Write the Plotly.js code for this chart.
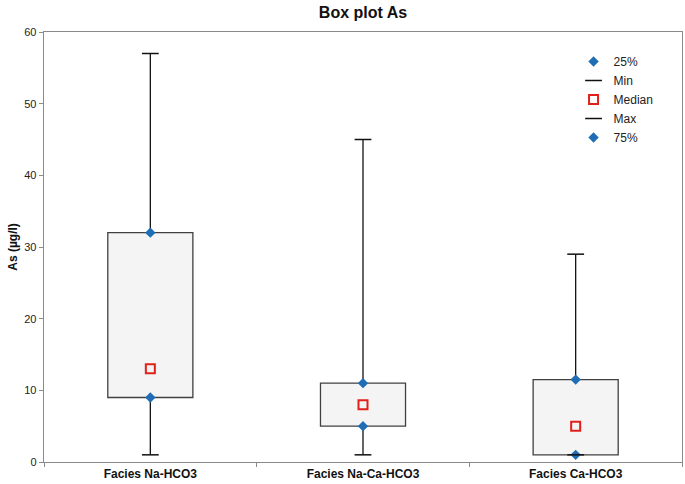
<!DOCTYPE html>
<html>
<head>
<meta charset="utf-8">
<script src="https://cdn.plot.ly/plotly-3.0.1.min.js"></script>
<style>html,body{margin:0;padding:0;background:#fff;}#chart{width:685px;height:484px;}</style>
</head>
<body>
<div id="chart"></div>
<script>
const categories = ["Facies Na-HCO3", "Facies Na-Ca-HCO3", "Facies Ca-HCO3"];
const q1Values = [9, 5, 1];
const minValues = [1, 1, 1];
const medianValues = [13, 8, 5];
const maxValues = [57, 45, 29];
const q3Values = [32, 11, 11.5];

// whisker segments (below and above the box), built from the data arrays
const wx = [], wy = [];
categories.forEach((c, i) => {
  wx.push(c, c, null, c, c, null);
  wy.push(minValues[i], q1Values[i], null, q3Values[i], maxValues[i], null);
});

const font = "Liberation Sans, Arial, sans-serif";
const blue = "#1f6db5";

const traces = [
  {type: "bar", x: categories, base: q1Values, y: q3Values.map((v, i) => v - q1Values[i]),
   width: 0.4, marker: {color: "#f4f4f4", line: {color: "#404040", width: 1.3}},
   showlegend: false, hoverinfo: "skip"},
  {type: "scatter", mode: "lines", x: wx, y: wy, line: {color: "#111", width: 1.3},
   showlegend: false, hoverinfo: "skip"},
  {type: "scatter", mode: "markers", name: "25%", x: categories, y: q1Values,
   marker: {symbol: "diamond", size: 8, color: blue}},
  {type: "scatter", mode: "markers", name: "Min", x: categories, y: minValues,
   marker: {symbol: "line-ew", size: 12, line: {color: "#111", width: 1.5}}},
  {type: "scatter", mode: "markers", name: "Median", x: categories, y: medianValues,
   marker: {symbol: "square-open", size: 9, color: "#e0201b", line: {width: 2}}},
  {type: "scatter", mode: "markers", name: "Max", x: categories, y: maxValues,
   marker: {symbol: "line-ew", size: 12, line: {color: "#111", width: 1.5}}},
  {type: "scatter", mode: "markers", name: "75%", x: categories, y: q3Values,
   marker: {symbol: "diamond", size: 8, color: blue}}
];

const layout = {
  width: 685, height: 484,
  margin: {l: 44, r: 3, t: 32, b: 22},
  paper_bgcolor: "#fff", plot_bgcolor: "#fff",
  font: {family: font, size: 11, color: "#222"},
  title: {text: "<b>Box plot As</b>", x: 0.5, xref: "paper", y: 0.985, yanchor: "top",
          font: {family: font, size: 16, color: "#111"}},
  showlegend: true,
  legend: {x: 0.83, y: 0.965, xanchor: "left", yanchor: "top", bgcolor: "rgba(0,0,0,0)",
           font: {family: font, size: 12, color: "#222"}, itemwidth: 30, tracegroupgap: 0},
  xaxis: {type: "category", showline: true, linecolor: "#8a8a8a", linewidth: 1.3, mirror: true,
          ticks: "outside", tickson: "boundaries", ticklen: 4, tickcolor: "#8a8a8a",
          showgrid: false, zeroline: false, range: [-0.5, 2.5],
          tickfont: {family: font, size: 12, color: "#111", weight: "bold"}},
  yaxis: {range: [0, 60], dtick: 10, showline: true, linecolor: "#8a8a8a", linewidth: 1.3, mirror: true,
          ticks: "outside", ticklen: 4, tickcolor: "#8a8a8a", showgrid: false, zeroline: false,
          tickfont: {family: font, size: 11, color: "#222"},
          title: {text: "<b>As (µg/l)</b>", standoff: 4, font: {family: font, size: 12, color: "#111"}}},
  barmode: "overlay"
};

Plotly.newPlot("chart", traces, layout, {displayModeBar: false, staticPlot: true});
</script>
</body>
</html>
